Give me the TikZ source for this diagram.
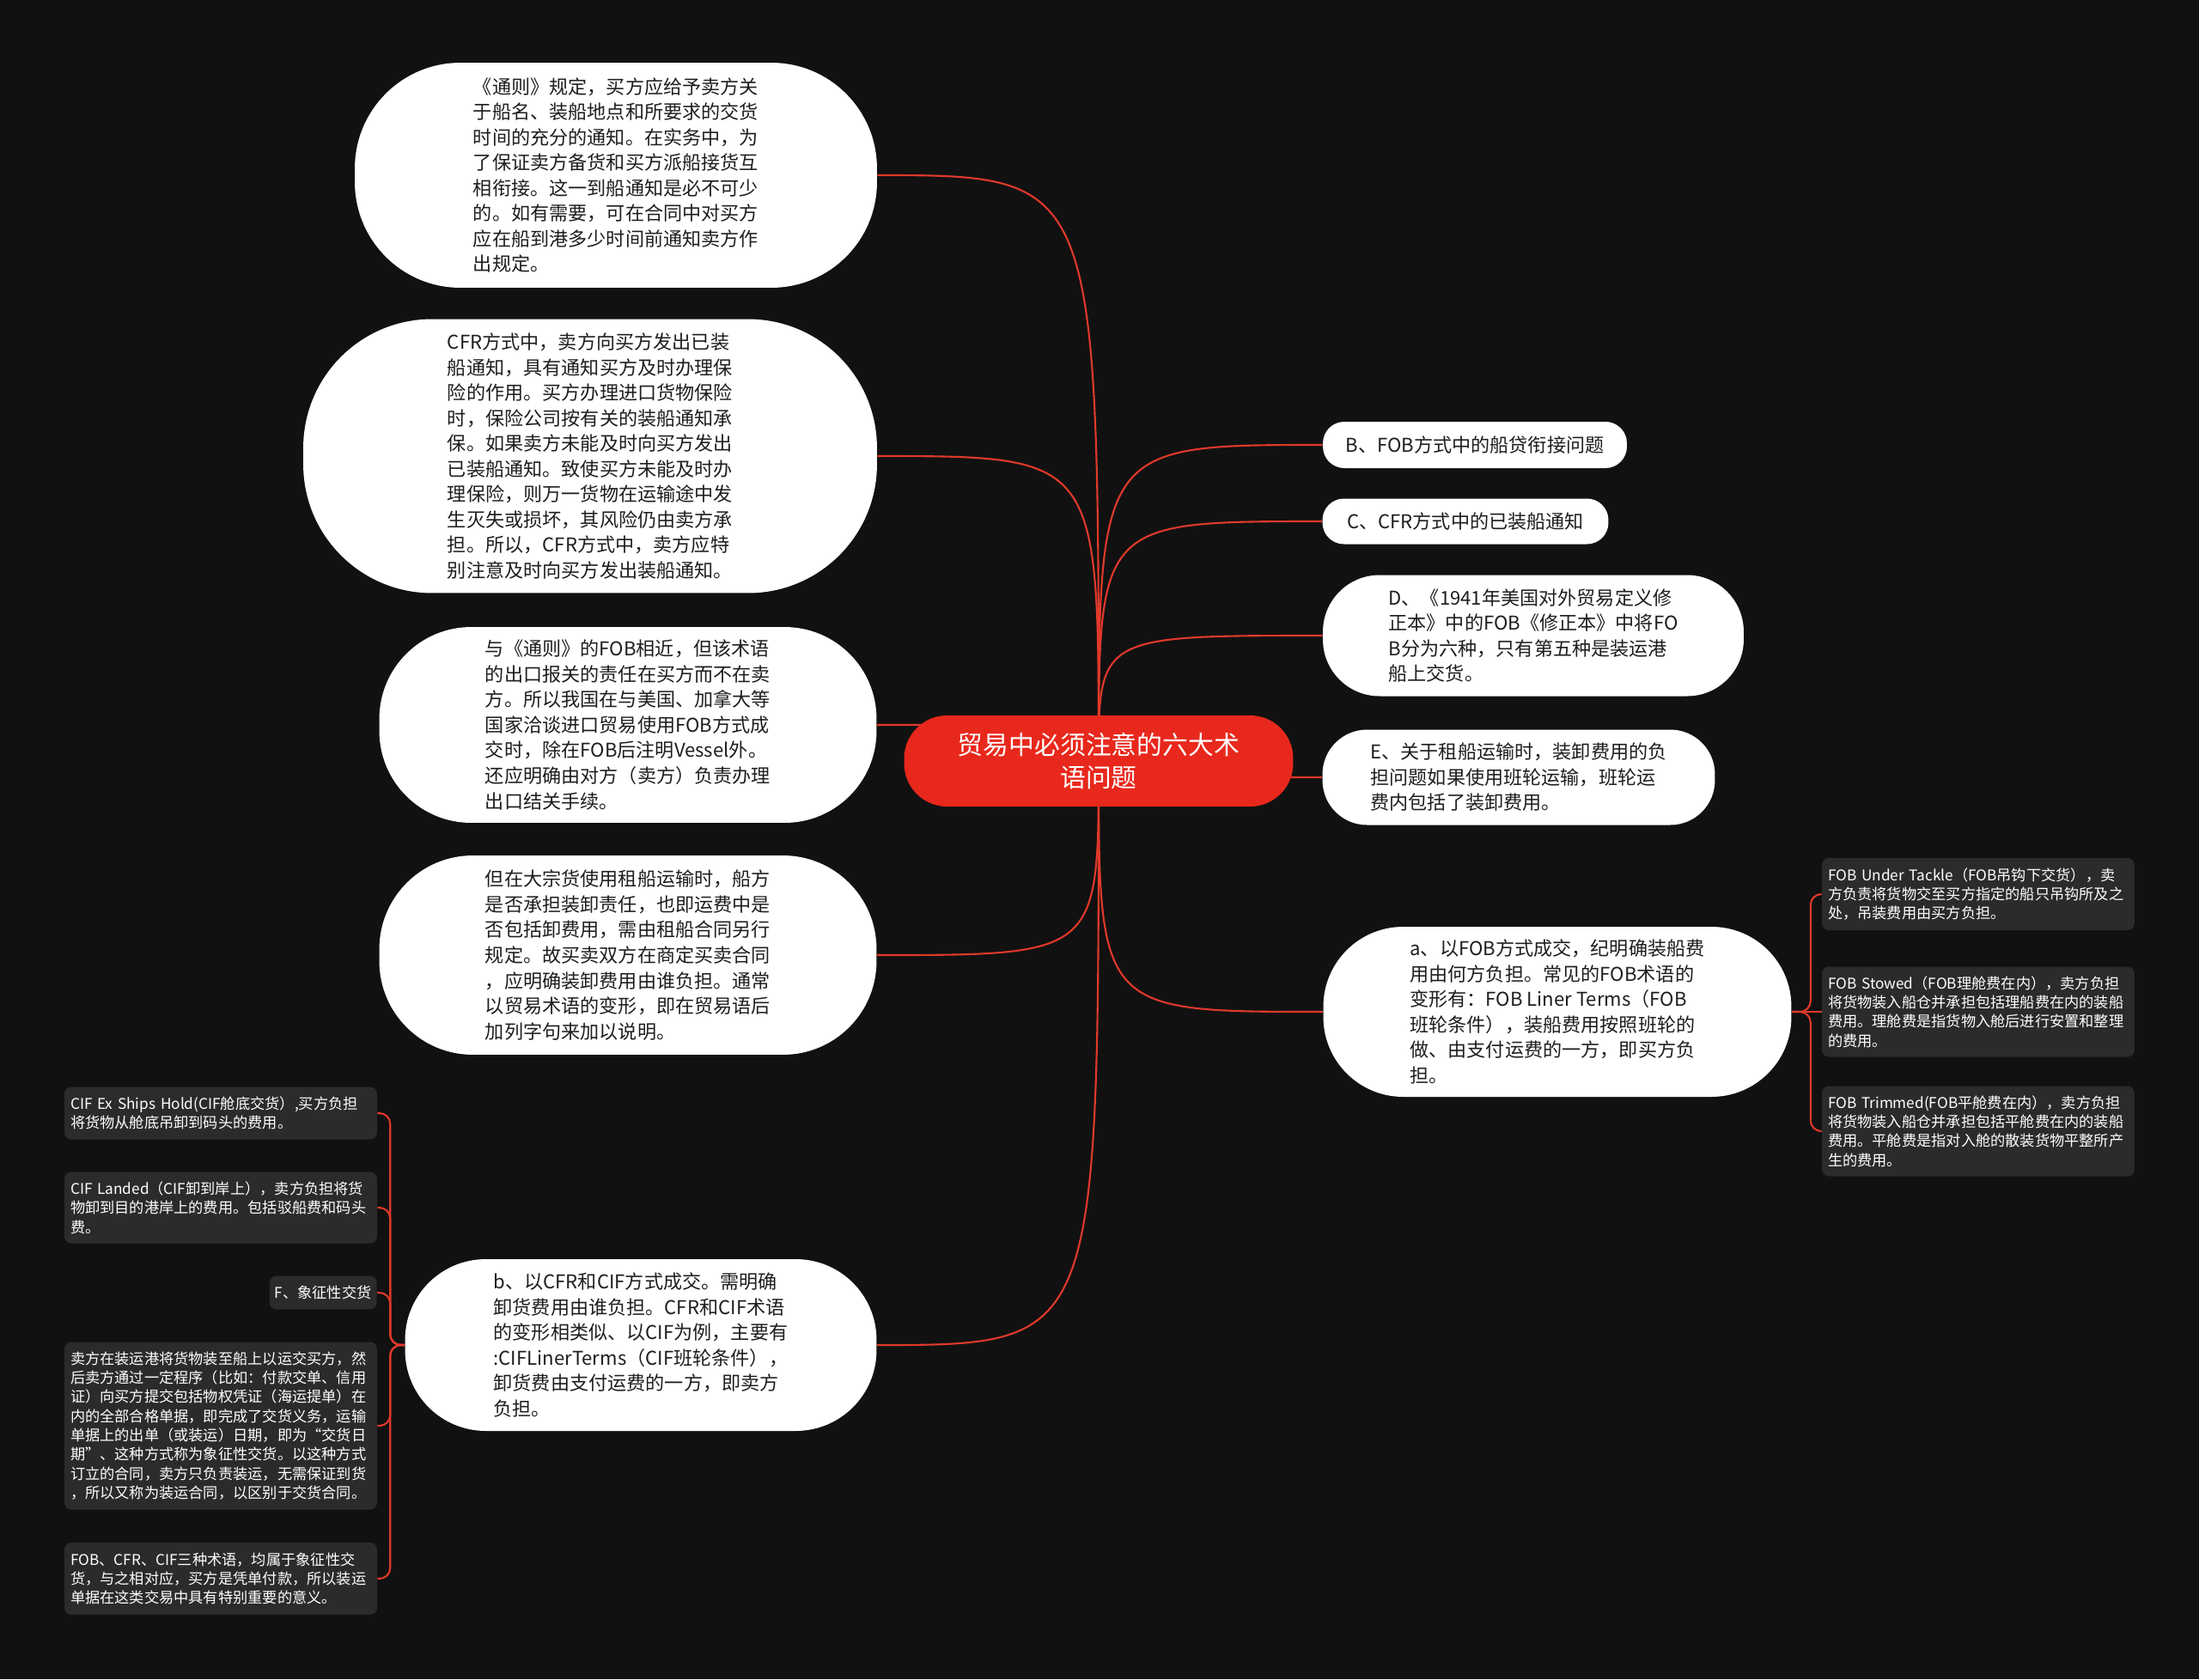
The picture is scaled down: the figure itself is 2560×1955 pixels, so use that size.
\documentclass[tikz,border=0pt]{standalone}
\usepackage{fontspec}
\setmainfont{Noto Sans CJK SC}
\usetikzlibrary{positioning}
\definecolor{canvas}{HTML}{111111}
\definecolor{rootred}{HTML}{E8281C}
\definecolor{linkred}{HTML}{E0392B}
\definecolor{notegray}{HTML}{2B2B2B}
\definecolor{inkdark}{HTML}{1E1E1E}
\pgfdeclarelayer{bg}
\pgfdeclarelayer{edges}
\pgfsetlayers{bg,edges,main}

\begin{document}
\begin{tikzpicture}[x=0.02cm, y=-0.02cm,
    topic/.style={fill=rootred, text=white, rounded corners=1cm, minimum width=9.06cm, minimum height=2.12cm, align=center, font=\fontsize{17pt}{22pt}\selectfont},
    bubble/.style={fill=white, text=inkdark, rounded corners=#1, align=left, font=\fontsize{12.6pt}{16.8pt}\selectfont},
    note/.style={fill=notegray, text=white, rounded corners=0.16cm, text width=7.0cm, align=left, inner xsep=0.14cm, minimum width=7.28cm, font=\fontsize{9.8pt}{12.7pt}\selectfont},
    tag/.style={fill=notegray, text=white, rounded corners=0.16cm, inner xsep=0.12cm, font=\fontsize{9.8pt}{12.7pt}\selectfont},
    link/.style={draw=linkred, line width=1.2pt}
  ]
  \useasboundingbox (0,0) rectangle (2560,1955);
  \begin{pgfonlayer}{bg}
    \fill[canvas] (0,0) rectangle (2560,1955);
  \end{pgfonlayer}

  \node[topic] (theme) at (1279,886) {贸易中必须注意的六大术\\语问题};

  \node[bubble=2.46cm, minimum width=12.16cm, minimum height=5.24cm] (notice) at (717,204)
    {《通则》规定，买方应给予卖方关\\于船名、装船地点和所要求的交货\\时间的充分的通知。在实务中，为\\了保证卖方备货和买方派船接货互\\相衔接。这一到船通知是必不可少\\的。如有需要，可在合同中对买方\\应在船到港多少时间前通知卖方作\\出规定。};
  \node[bubble=3.0cm, minimum width=13.36cm, minimum height=6.38cm] (cfrnote) at (687,531)
    {CFR方式中，卖方向买方发出已装\\船通知，具有通知买方及时办理保\\险的作用。买方办理进口货物保险\\时，保险公司按有关的装船通知承\\保。如果卖方未能及时向买方发出\\已装船通知。致使买方未能及时办\\理保险，则万一货物在运输途中发\\生灭失或损坏，其风险仍由卖方承\\担。所以，CFR方式中，卖方应特\\别注意及时向买方发出装船通知。};
  \node[bubble=2.14cm, minimum width=11.58cm, minimum height=4.56cm] (vessel) at (731,844)
    {与《通则》的FOB相近，但该术语\\的出口报关的责任在买方而不在卖\\方。所以我国在与美国、加拿大等\\国家洽谈进口贸易使用FOB方式成\\交时，除在FOB后注明Vessel外。\\还应明确由对方（卖方）负责办理\\出口结关手续。};
  \node[bubble=2.18cm, minimum width=11.58cm, minimum height=4.64cm] (charter) at (731,1112)
    {但在大宗货使用租船运输时，船方\\是否承担装卸责任，也即运费中是\\否包括卸费用，需由租船合同另行\\规定。故买卖双方在商定买卖合同\\，应明确装卸费用由谁负担。通常\\以贸易术语的变形，即在贸易语后\\加列字句来加以说明。};
  \node[bubble=1.88cm, minimum width=10.98cm, minimum height=4.0cm] (cfrcif) at (746,1566)
    {b、以CFR和CIF方式成交。需明确\\卸货费用由谁负担。CFR和CIF术语\\的变形相类似、以CIF为例，主要有\\:CIFLinerTerms（CIF班轮条件），\\卸货费由支付运费的一方，即卖方\\负担。};

  \node[bubble=0.5cm, minimum width=7.08cm, minimum height=1.08cm] (fobship) at (1717,518)
    {B、FOB方式中的船贷衔接问题};
  \node[bubble=0.5cm, minimum width=6.66cm, minimum height=1.06cm] (cfradvice) at (1706,607)
    {C、CFR方式中的已装船通知};
  \node[bubble=1.32cm, minimum width=9.8cm, minimum height=2.82cm] (amdef) at (1785,740)
    {D、《1941年美国对外贸易定义修\\正本》中的FOB《修正本》中将FO\\B分为六种，只有第五种是装运港\\船上交货。};
  \node[bubble=1.04cm, minimum width=9.14cm, minimum height=2.22cm] (charterfee) at (1768,905)
    {E、关于租船运输时，装卸费用的负\\担问题如果使用班轮运输，班轮运\\费内包括了装卸费用。};
  \node[bubble=1.86cm, minimum width=10.9cm, minimum height=3.96cm] (fobfee) at (1813,1178)
    {a、以FOB方式成交，纪明确装船费\\用由何方负担。常见的FOB术语的\\变形有：FOB Liner Terms（FOB\\班轮条件），装船费用按照班轮的\\做、由支付运费的一方，即买方负\\担。};

  \node[note, minimum height=1.68cm] (tackle) at (2303,1041)
    {FOB Under Tackle（FOB吊钩下交货），卖\\方负责将货物交至买方指定的船只吊钩所及之\\处，吊装费用由买方负担。};
  \node[note, minimum height=2.1cm] (stowed) at (2303,1178)
    {FOB Stowed（FOB理舱费在内），卖方负担\\将货物装入船仓并承担包括理船费在内的装船\\费用。理舱费是指货物入舱后进行安置和整理\\的费用。};
  \node[note, minimum height=2.1cm] (trimmed) at (2303,1317)
    {FOB Trimmed(FOB平舱费在内），卖方负担\\将货物装入船仓并承担包括平舱费在内的装船\\费用。平舱费是指对入舱的散装货物平整所产\\生的费用。};

  \node[note, minimum height=1.22cm] (exhold) at (257,1296)
    {CIF Ex Ships Hold(CIF舱底交货）,买方负担\\将货物从舱底吊卸到码头的费用。};
  \node[note, minimum height=1.66cm] (landed) at (257,1406)
    {CIF Landed（CIF卸到岸上），卖方负担将货\\物卸到目的港岸上的费用。包括驳船费和码头\\费。};
  \node[tag, minimum height=0.78cm, anchor=east] (symbolic) at (439,1505)
    {F、象征性交货};
  \node[note, minimum height=3.9cm] (symdesc) at (257,1660)
    {卖方在装运港将货物装至船上以运交买方，然\\后卖方通过一定程序（比如：付款交单、信用\\证）向买方提交包括物权凭证（海运提单）在\\内的全部合格单据，即完成了交货义务，运输\\单据上的出单（或装运）日期，即为“交货日\\期”、这种方式称为象征性交货。以这种方式\\订立的合同，卖方只负责装运，无需保证到货\\，所以又称为装运合同，以区别于交货合同。};
  \node[note, minimum height=1.68cm] (docs) at (257,1838)
    {FOB、CFR、CIF三种术语，均属于象征性交\\货，与之相对应，买方是凭单付款，所以装运\\单据在这类交易中具有特别重要的意义。};

  \begin{pgfonlayer}{edges}
    \foreach \n in {notice,cfrnote,vessel,charter,cfrcif}
      \draw[link] (theme.center) .. controls (theme.center |- \n.east) .. (\n.east);
    \foreach \n in {fobship,cfradvice,amdef,charterfee,fobfee}
      \draw[link] (theme.center) .. controls (theme.center |- \n.west) .. (\n.west);
    \foreach \n in {tackle,trimmed}
      \draw[link, rounded corners=0.25cm] (fobfee.east) -- ++(22,0) |- (\n.west);
    \draw[link] (fobfee.east) -- (stowed.west);
    \foreach \n in {exhold,landed,symbolic,symdesc,docs}
      \draw[link, rounded corners=0.25cm] (cfrcif.west) -- ++(-17,0) |- (\n.east);
  \end{pgfonlayer}
\end{tikzpicture}
\end{document}
